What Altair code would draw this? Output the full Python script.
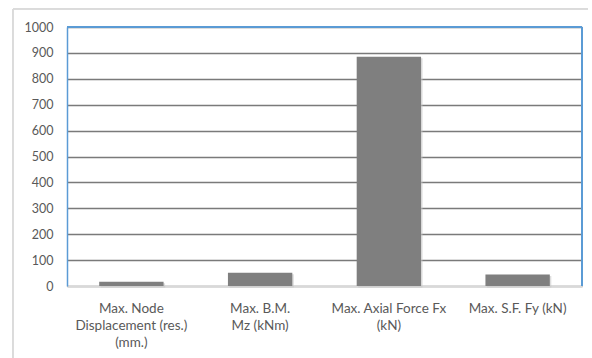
import altair as alt
import pandas as pd

categories = [
    "Max. Node\nDisplacement (res.)\n(mm.)",
    "Max. B.M.\nMz (kNm)",
    "Max. Axial Force Fx\n(kN)",
    "Max. S.F. Fy (kN)",
]
values = [16, 51, 885, 44]
y_ticks = [0, 100, 200, 300, 400, 500, 600, 700, 800, 900, 1000]

df = pd.DataFrame({"category": categories, "value": values})

W, H = 515, 259
FONT = "Lato"

x_enc = alt.X(
    "category:N",
    sort=categories,
    scale=alt.Scale(paddingInner=0.5, paddingOuter=0.25),
    axis=alt.Axis(
        title=None,
        labelAngle=0,
        labelExpr="split(datum.label, '\\n')",
        labelLineHeight=17,
        labelPadding=15,
        labelFontSize=13.5,
        labelColor="#595959",
        labelFont=FONT,
        domainColor="#d9d9d9",
        domainWidth=1.5,
        ticks=False,
        labelBaseline="top",
    ),
)
y_enc = alt.Y(
    "value:Q",
    scale=alt.Scale(domain=[0, 1000], nice=False),
    axis=alt.Axis(
        title=None,
        values=y_ticks,
        format="d",
        labelFontSize=12.5,
        labelColor="#595959",
        labelFont=FONT,
        labelPadding=14,
        ticks=False,
        domainColor="#5b9bd5",
        domainWidth=1.5,
        gridColor="#7a7a7a",
        gridWidth=1.3,
    ),
)

shadow = alt.Chart(df).mark_bar(color="#c8c8c8", opacity=0.6, xOffset=1.5, yOffset=1.5).encode(
    x=x_enc, y=y_enc
)
bars = alt.Chart(df).mark_bar(color="#7f7f7f").encode(x=x_enc, y=y_enc)

blue = "#5b9bd5"
top_rule = alt.Chart(df).mark_rule(color=blue, strokeWidth=1.5).encode(
    x=alt.value(0), x2=alt.value(W), y=alt.value(0)
)
right_rule = alt.Chart(df).mark_rule(color=blue, strokeWidth=1.5).encode(
    x=alt.value(W), y=alt.value(0), y2=alt.value(H)
)
frame_top = alt.Chart(df).mark_rule(color="#d9d9d9", strokeWidth=1, clip=False).encode(
    x=alt.value(-54), x2=alt.value(521), y=alt.value(-18)
)
frame_left = alt.Chart(df).mark_rule(color="#d9d9d9", strokeWidth=1, clip=False).encode(
    x=alt.value(-54), y=alt.value(-18), y2=alt.value(340)
)

chart = (
    alt.layer(shadow, bars, top_rule, right_rule, frame_top, frame_left)
    .properties(
        width=W,
        height=H,
        autosize=alt.AutoSizeParams(type="none"),
        padding={"left": 67, "top": 27, "right": 10, "bottom": 72},
        background="white",
    )
    .configure_view(stroke=None)
)

chart.save("out.html", embed_options={"renderer": "svg", "actions": False})
